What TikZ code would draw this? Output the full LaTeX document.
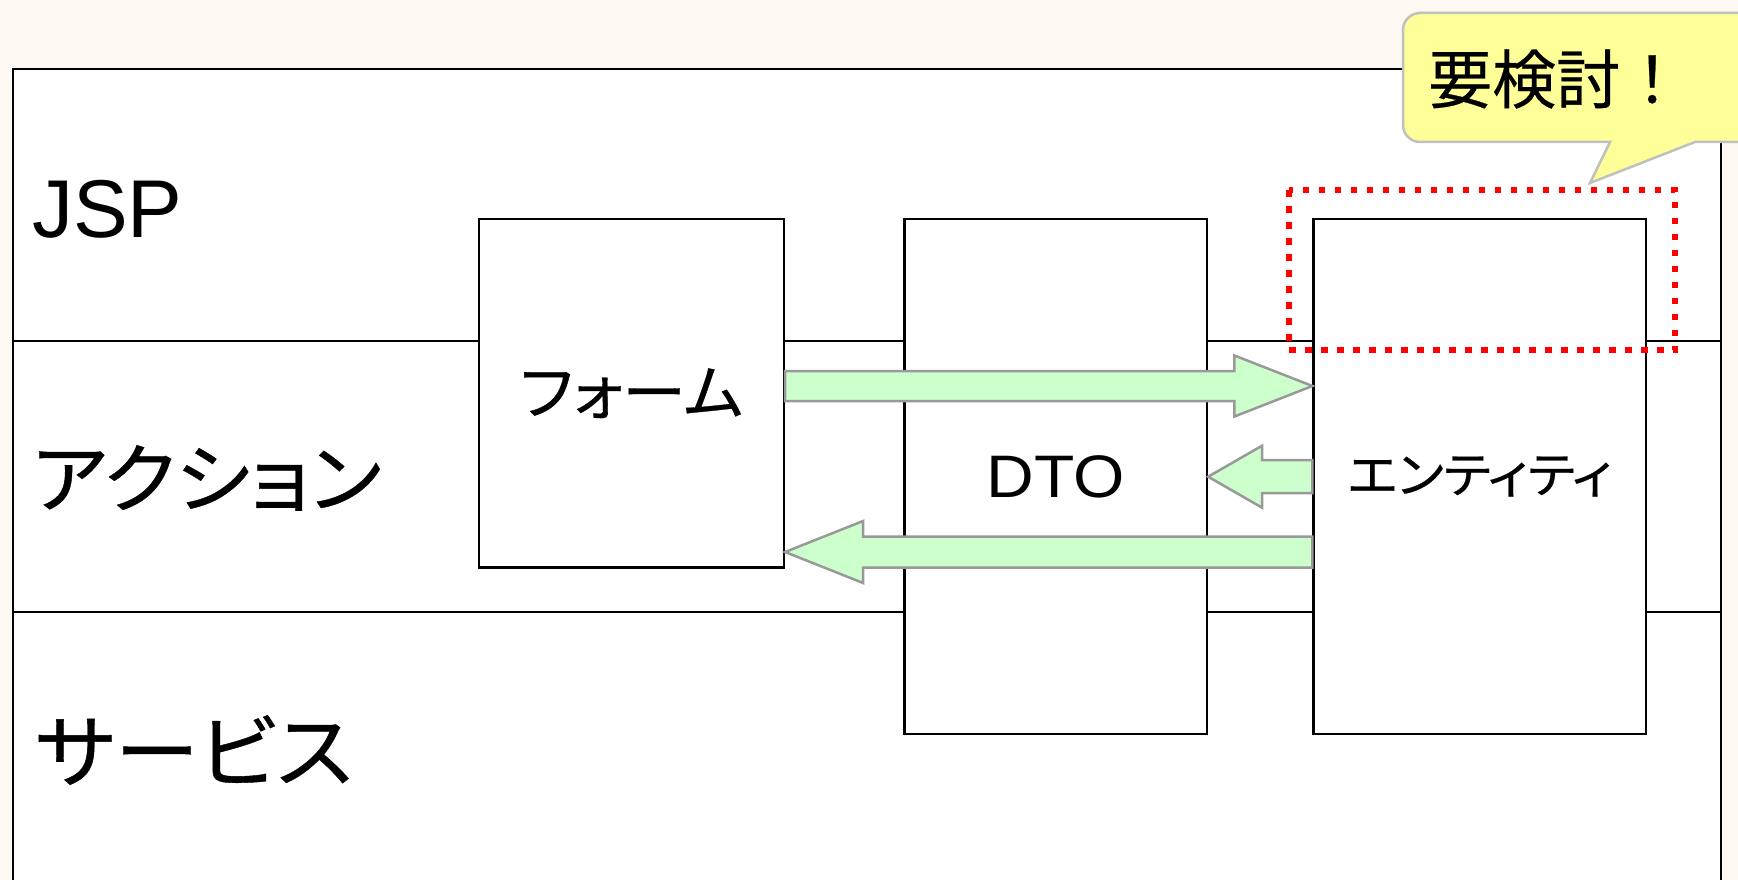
\documentclass[tikz,border=0pt]{standalone}
\usepackage{fontspec}
\setmainfont{Liberation Sans}
\newfontfamily\jp[RawFeature=+palt, FakeStretch=1.06, FakeBold=0.5]{Noto Sans CJK JP}
\newfontfamily\jpw[FakeBold=0.4]{Noto Sans CJK JP}
\newfontfamily\latw[FakeStretch=1.1]{Liberation Sans}
\usetikzlibrary{calc}
\definecolor{bgcol}{RGB}{253,248,242}
\definecolor{arrfill}{RGB}{204,255,204}
\definecolor{arrdraw}{RGB}{153,153,153}
\definecolor{balfill}{RGB}{255,255,153}
\definecolor{baldraw}{RGB}{192,192,192}
\tikzset{
  lane/.style={line width=2pt, draw=black},
  boxnode/.style={draw=black, fill=white, line width=2.2pt, rectangle, inner sep=0pt},
  barrow/.style={fill=arrfill, draw=arrdraw, line width=2.5pt, line join=miter},
  lanelabel/.style={inner sep=0pt, anchor=west},
}
\newcommand{\blockarrow}[5]{%
  \draw[barrow] ($(#1)+(0,-#3)$) -- ($(#2)+(#5,-#3)$) -- ($(#2)+(#5,-#4)$) -- (#2)
    -- ($(#2)+(#5,#4)$) -- ($(#2)+(#5,#3)$) -- ($(#1)+(0,#3)$) -- cycle;}
\begin{document}
\begin{tikzpicture}[x=1pt,y=-1pt]
\useasboundingbox (0,0) rectangle (1738,880);
\fill[bgcol] (0,0) rectangle (1738,880);
% outer frame
\draw[lane, fill=white] (13,69) rectangle (1721,900);
\coordinate (L1) at (13,341);
\coordinate (R1) at (1721,341);
\coordinate (L2) at (13,612);
\coordinate (R2) at (1721,612);
\draw[lane] (L1) -- (R1);
\draw[lane] (L2) -- (R2);
% lane labels
\node[inner sep=0pt, anchor=base west, font=\fontsize{82}{90}\selectfont] (jsp) at (32,237) {JSP};
\node[lanelabel, font=\jp\fontsize{76}{80}\selectfont] (action) at (32,478) {アクション};
\node[lanelabel, font=\jp\fontsize{80}{84}\selectfont] (service) at (35,750) {サービス};
% boxes
\node[boxnode, minimum width=305pt, minimum height=348.5pt, font=\jp\fontsize{60}{64}\selectfont] (form) at (631.5,393.25) {フォーム};
\node[boxnode, minimum width=302.5pt, minimum height=515pt, font=\latw\fontsize{60}{64}\selectfont] (dto) at (1055.75,476.5) {DTO};
\node[boxnode, minimum width=332.5pt, minimum height=515pt, font=\jp\fontsize{49}{52}\selectfont] (ent) at (1479.75,476.5) {エンティティ};
% red dotted marker
\draw[red, line width=6.5pt, dash pattern=on 6.5pt off 9.5pt] (1289,190) rectangle (1675,350);
% arrows
\coordinate (y1) at (0,386);
\coordinate (y2) at (0,476.7);
\coordinate (y3) at (0,552);
\coordinate (a1s) at (form.east |- y1);
\coordinate (a1e) at (ent.west |- y1);
\coordinate (a2s) at (ent.west |- y2);
\coordinate (a2e) at (dto.east |- y2);
\coordinate (a3s) at (ent.west |- y3);
\coordinate (a3e) at (form.east |- y3);
\blockarrow{a1s}{a1e}{15}{30.5}{-78}
\blockarrow{a2s}{a2e}{16.5}{31}{54}
\blockarrow{a3s}{a3e}{15.5}{31}{78}
% balloon
\draw[fill=balfill, draw=baldraw, line width=2.5pt, line join=miter]
  (1500,142) -- (1610,142) -- (1590,183) -- (1695,142) -- (1760,142) -- (1760,13)
  [rounded corners=17pt] -- (1403,13) -- (1403,142) [sharp corners] -- cycle;
\node[inner sep=0pt, anchor=west, font=\jpw\fontsize{64}{68}\selectfont] (note) at (1428,79) {要検討！};
\end{tikzpicture}
\end{document}
